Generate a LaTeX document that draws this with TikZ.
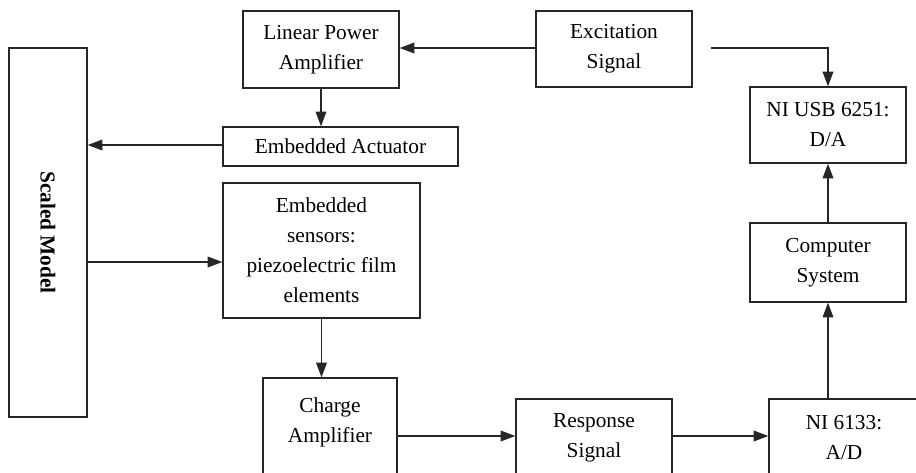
\documentclass[tikz,border=0pt]{standalone}
\usepackage{fontspec}
\setmainfont{Liberation Serif}
\usetikzlibrary{arrows.meta}
\begin{document}
\begin{tikzpicture}[x=0.75pt,y=-0.75pt,
  box/.style={draw=black!85, line width=1pt, inner sep=0pt, align=center,
    font=\fontsize{16}{22.5}\selectfont},
  txt/.style={inner sep=0pt, align=center, font=\fontsize{16}{22.5}\selectfont},
  conn/.style={draw=black!85, line width=1pt},
  arr/.style={conn, -{Triangle[length=11pt,width=8pt]}}]
\useasboundingbox (0,0) rectangle (916,472);
\clip (0,0) rectangle (916,472);
\fill[white] (0,0) rectangle (916,472);

\node[box, minimum width=156*0.75pt, minimum height=77*0.75pt] (lpa) at (321,49.5) {Linear Power\\Amplifier};
\node[box, minimum width=156*0.75pt, minimum height=76*0.75pt] (exc) at (614,49) {Excitation\\Signal};
\node[box, minimum width=156*0.75pt, minimum height=76*0.75pt] (niusb) at (828,125) {NI USB 6251:\\D/A};
\node[box, minimum width=235*0.75pt, minimum height=39*0.75pt] (ea) at (340.5,146.5) {Embedded Actuator};
\node[box, minimum width=78*0.75pt, minimum height=369*0.75pt] (sm) at (48,232.5) {};
\node[txt, rotate=-90, font=\fontsize{16}{22.5}\selectfont\bfseries] (smt) at (sm.center) {Scaled Model};
\node[box, minimum width=197*0.75pt, minimum height=135*0.75pt] (sens) at (321.5,250.5) {Embedded\\sensors:\\piezoelectric film\\elements};
\node[box, minimum width=156*0.75pt, minimum height=79*0.75pt] (comp) at (828,262.5) {Computer\\System};
\node[box, minimum width=134*0.75pt, minimum height=122*0.75pt] (charge) at (330,439) {};
\node[txt] (charget) at (330,422) {Charge\\Amplifier};
\node[box, minimum width=156*0.75pt, minimum height=101*0.75pt] (resp) at (594,449.5) {};
\node[txt] (respt) at (594,438) {Response\\Signal};
\node[box, minimum width=156*0.75pt, minimum height=101*0.75pt] (ni) at (847,449.5) {};
\node[txt] (nit) at (844,438) {NI 6133:\\A/D};
\coordinate (excout) at (711,48);

\draw[arr] (exc.west |- 0,48) -- (lpa.east |- 0,48);
\draw[arr] (excout) -| (niusb.north);
\draw[arr] (lpa.south) -- (lpa.south |- ea.north);
\draw[arr] (ea.west |- 0,145) -- (sm.east |- 0,145);
\draw[arr] (sm.east |- 0,262) -- (sens.west |- 0,262);
\draw[arr] (sens.south) -- (sens.south |- charge.north);
\draw[arr] (charge.east |- 0,436) -- (resp.west |- 0,436);
\draw[arr] (resp.east |- 0,436) -- (ni.west |- 0,436);
\draw[arr] (comp.south |- ni.north) -- (comp.south);
\draw[arr] (comp.north) -- (niusb.south);
\end{tikzpicture}
\end{document}
